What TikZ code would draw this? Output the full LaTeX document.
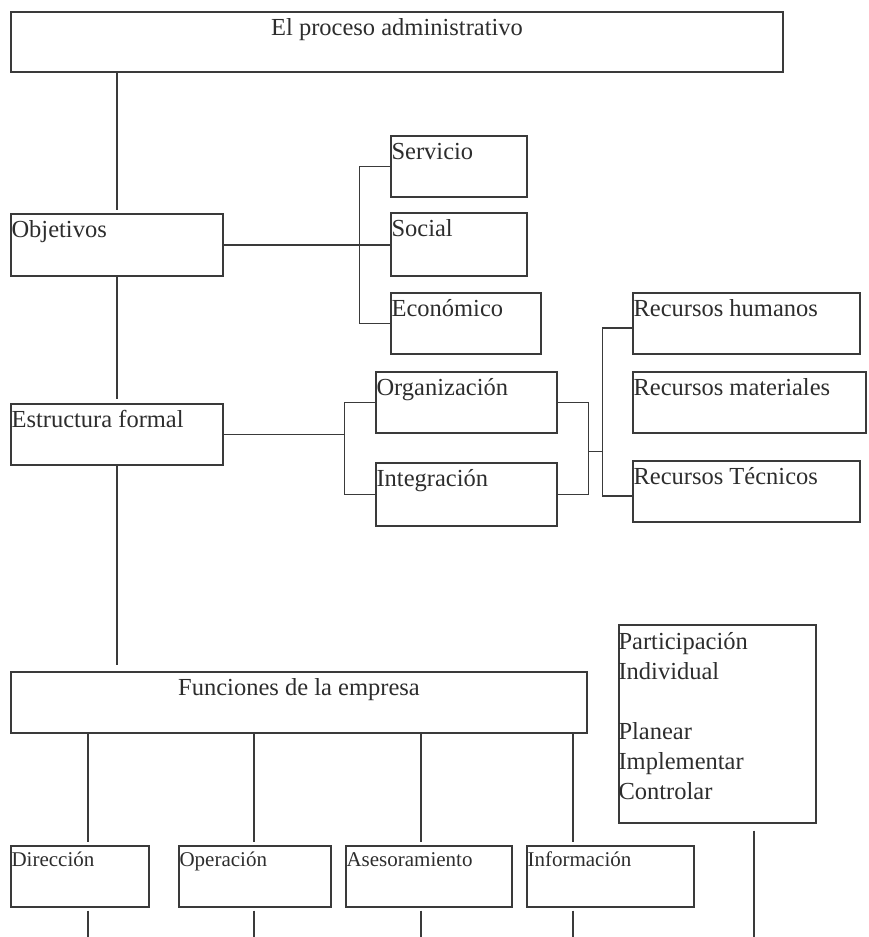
\documentclass[tikz,border=0pt]{standalone}
\usepackage{fontspec}
\setmainfont{Liberation Serif}
\usepackage{tikz}
\usetikzlibrary{calc}
\definecolor{chartline}{RGB}{58,58,58}
\definecolor{charttext}{RGB}{45,45,45}
\newcommand{\chartfont}{\fontsize{24.5}{30}\selectfont}
\newcommand{\chartsmallfont}{\fontsize{21}{26}\selectfont}
\tikzset{
  obox/.style={rectangle, draw=chartline, line width=1.3pt, inner sep=0pt,
               minimum height=61pt},
  otl/.style={label={[anchor=base west, inner sep=0pt, xshift=1pt, yshift=-24pt,
                      font=\chartfont, text=charttext]north west:#1}},
  otc/.style={label={[anchor=base, inner sep=0pt, yshift=-24pt,
                      font=\chartfont, text=charttext]north:#1}},
  osm/.style={label={[anchor=base west, inner sep=0pt, xshift=1pt, yshift=-21pt,
                      font=\chartsmallfont, text=charttext]north west:#1}},
  oline/.style={draw=chartline, line width=1.2pt},
}

\begin{document}
\begin{tikzpicture}[x=1pt, y=-1pt, ogap/.style={shorten >=3pt}]
  \useasboundingbox (0,0) rectangle (868,937);
  \node[obox, otc=El proceso administrativo, minimum width=772pt, minimum height=60pt] (proc) at (397,42) {};
  \node[obox, otl=Objetivos, minimum width=212pt, minimum height=62pt] (obj) at (117,245) {};
  \node[obox, otl=Servicio, minimum width=136pt] (serv) at (459,166.5) {};
  \node[obox, otl=Social, minimum width=136pt, minimum height=63pt] (soc) at (459,244.5) {};
  \node[obox, otl=Económico, minimum width=150pt] (econ) at (466,323.5) {};
  \node[obox, otl=Estructura formal, minimum width=212pt] (est) at (117,434.5) {};
  \node[obox, otl=Organización, minimum width=181pt] (org) at (466.5,402.5) {};
  \node[obox, otl=Integración, minimum width=181pt, minimum height=63pt] (integ) at (466.5,494.5) {};
  \node[obox, otl=Recursos humanos, minimum width=227pt] (rhum) at (746.5,323.5) {};
  \node[obox, otl=Recursos materiales, minimum width=233pt] (rmat) at (749.5,402.5) {};
  \node[obox, otl=Recursos Técnicos, minimum width=227pt] (rtec) at (746.5,491.5) {};
  \node[obox, otc=Funciones de la empresa, minimum width=576pt] (func) at (299,702.5) {};
  \node[obox, minimum width=197pt, minimum height=198pt,
        label={[anchor=north west, inner sep=0pt, yshift=-8pt, align=left,
                font=\chartfont, text=charttext]north west:Participación\\Individual\\[30pt]Planear\\Implementar\\Controlar}]
        (part) at (717.5,724) {};
  \node[obox, osm=Dirección, minimum width=138pt] (dir) at (80,876.5) {};
  \node[obox, osm=Operación, minimum width=152pt] (oper) at (255,876.5) {};
  \node[obox, osm=Asesoramiento, minimum width=166pt] (ases) at (429,876.5) {};
  \node[obox, osm=Información, minimum width=167pt] (info) at (610.5,876.5) {};

  \draw[oline, ogap] (proc.south -| obj.north) -- (obj.north);
  \draw[oline, shorten >=4pt] (obj.south) -- (est.north);
  \draw[oline, shorten >=6pt] (est.south) -- (est.south |- func.north);

  \draw[oline] (obj.east) -- (obj.east -| soc.west);
  \draw[oline] (serv.west) -- ++(-31,0) coordinate (objbr) |- (econ.west);

  \draw[oline] (org.west) -- ++(-31,0) coordinate (estbr) |- (integ.west);
  \draw[oline] (est.east) -- (est.east -| estbr);

  \draw[oline] (org.east) -- ++(31,0) coordinate (orgbr) |- (integ.east);
  \coordinate (join) at ($(orgbr)!0.53!(orgbr |- integ.east)$);
  \draw[oline] ([yshift=-4.5pt]rhum.west) -- ++(-30,0) coordinate (recbr) |- ([yshift=-4.5pt]rtec.west);
  \draw[oline] (join) -- (join -| recbr);

  \foreach \b/\x in {dir/88,oper/254,ases/421,info/573} {
    \draw[oline, ogap] (func.south -| \x,0) -- (\b.north -| \x,0);
    \coordinate (\b-end) at (\x,937);
    \draw[oline, shorten <=3pt] (\b.south -| \x,0) -- (\b-end);
  }
  \coordinate (part-end) at (754,937);
  \draw[oline, shorten <=7pt] (part.south -| part-end) -- (part-end);
\end{tikzpicture}
\end{document}
